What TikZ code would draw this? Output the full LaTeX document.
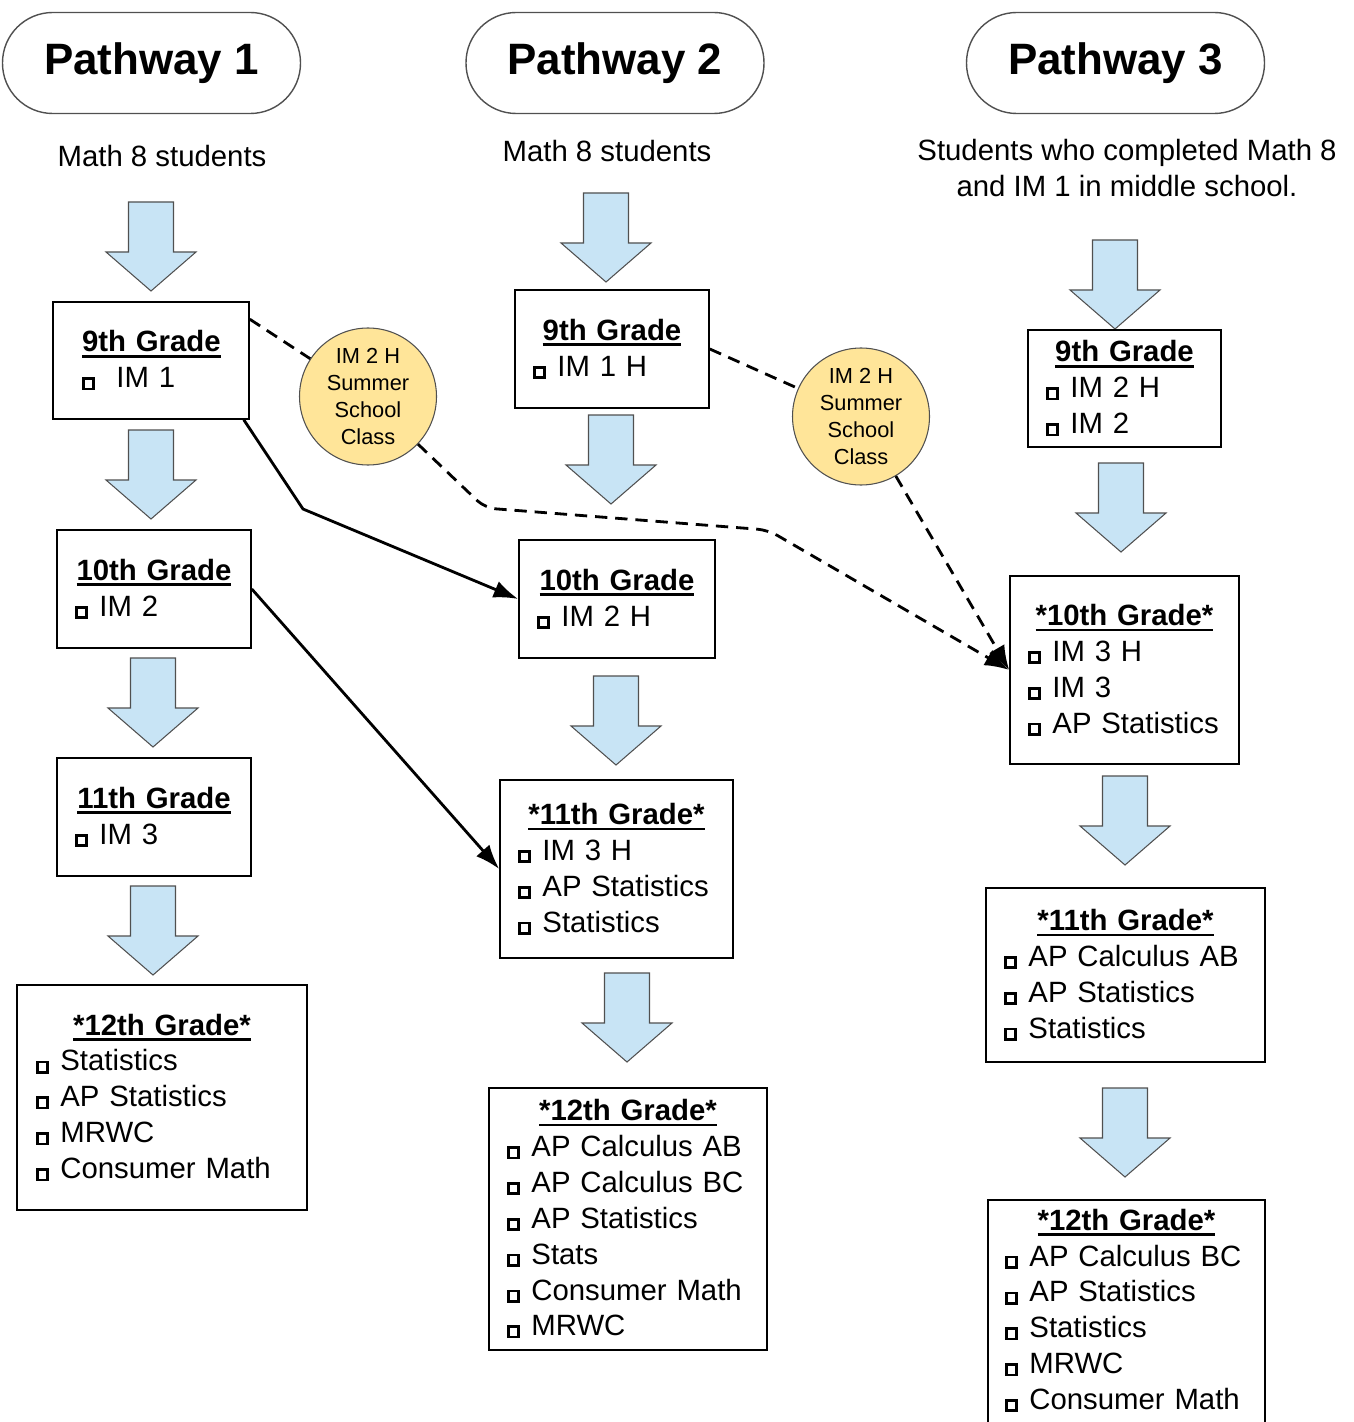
\documentclass[tikz,border=0pt]{standalone}
\usepackage{fontspec}
\setmainfont{Liberation Sans}
\usepackage{tikz}
\usetikzlibrary{arrows.meta,positioning,calc}
\definecolor{arrowblue}{RGB}{200,228,245}
\definecolor{summeryellow}{RGB}{255,229,153}
\definecolor{edgegray}{RGB}{80,80,80}
\newlength{\dpx}
\setlength{\dpx}{0.02cm}
\newcommand{\chk}{\setlength{\fboxrule}{1.5pt}\setlength{\fboxsep}{0pt}\fbox{\rule{0pt}{4.4pt}\hspace{4.4pt}}\hspace{6.5pt}}
\newcommand{\opt}[1]{\mbox{\chk #1}}
\newcommand{\gradehd}[1]{{\centering\setbox0\hbox{\bfseries #1}\rlap{\rule[-3.2pt]{\wd0}{1.5pt}}\box0\par}}
\tikzset{
    pill/.style={draw=edgegray, line width=0.8pt, rounded corners=28.6pt, minimum width=298\dpx, minimum height=101\dpx, font=\fontsize{25}{30}\selectfont\bfseries},
    intro/.style={align=center, font=\fontsize{16.7}{20.4}\selectfont},
    gradebox/.style n args={3}{draw, line width=0.9pt, align=left, text width=#1\dpx, inner xsep=#2\dpx, inner ysep=0pt, minimum height=#3\dpx, font=\fontsize{16.7}{20.4}\selectfont},
    summer/.style={circle, draw=edgegray, line width=0.6pt, fill=summeryellow, minimum size=137\dpx, inner sep=0pt, align=center, font=\fontsize{12.4}{15.3}\selectfont},
    jump/.style={draw, line width=1.6pt, -{Latex[length=14pt,width=10pt]}},
    dashline/.style={draw, line width=1.6pt, dash pattern=on 7pt off 4.5pt},
    arrowshape/.style={draw=edgegray, line width=0.6pt, fill=arrowblue},
    gradearrow/.pic={\path[arrowshape] (-22.5,0) -- (22.5,0) -- (22.5,50) -- (45,50) -- (0,89) -- (-45,50) -- (-22.5,50) -- cycle;}
}
\begin{document}
\begin{tikzpicture}[x=0.02cm, y=-0.02cm]
    \useasboundingbox (0,0) rectangle (1354,1422);

    % Pathway 1
    \node [pill] (path1) at (151.5,63) {Pathway 1};
    \node [intro] (intro1) at (162,156) {Math 8 students};
    \pic at (151,202) {gradearrow};
    \node [gradebox={138}{29}{117}] (g9a) at (151,360.5) {\gradehd{9th Grade}\mbox{\chk\hspace{5.7pt}IM 1}};
    \pic at (151,430) {gradearrow};
    \node [gradebox={158}{18}{118}] (g10a) at (154,589) {\gradehd{10th Grade}\opt{IM 2}};
    \pic at (153,658) {gradearrow};
    \node [gradebox={158}{18}{118}] (g11a) at (154,817) {\gradehd{11th Grade}\opt{IM 3}};
    \pic at (153,886) {gradearrow};
    \node [gradebox={252}{19}{225}] (g12a) at (162,1097.5) {\gradehd{*12th Grade*}\opt{Statistics}\\\opt{AP Statistics}\\\opt{MRWC}\\\opt{Consumer Math}};

    % Pathway 2
    \node [pill] (path2) at (615,63) {Pathway 2};
    \node [intro] (intro2) at (607,151) {Math 8 students};
    \pic at (606,193) {gradearrow};
    \node [gradebox={158}{18}{118}] (g9b) at (612,349) {\gradehd{9th Grade}\opt{IM 1 H}};
    \pic at (611,415) {gradearrow};
    \node [gradebox={160}{18}{118}] (g10b) at (617,599) {\gradehd{10th Grade}\opt{IM 2 H}};
    \pic at (616,676) {gradearrow};
    \node [gradebox={197}{18}{178}] (g11b) at (616.5,869) {\gradehd{*11th Grade*}\opt{IM 3 H}\\\opt{AP Statistics}\\\opt{Statistics}};
    \pic at (627,973) {gradearrow};
    \node [gradebox={242}{18}{262}] (g12b) at (628,1219) {\gradehd{*12th Grade*}\opt{AP Calculus AB}\\\opt{AP Calculus BC}\\\opt{AP Statistics}\\\opt{Stats}\\\opt{Consumer Math}\\\opt{MRWC}};

    % Pathway 3
    \node [pill] (path3) at (1115.5,63) {Pathway 3};
    \node [intro] (intro3) at (1127,168) {Students who completed Math 8\\and IM 1 in middle school.};
    \pic at (1115,240) {gradearrow};
    \node [gradebox={157}{18}{117}] (g9c) at (1124.5,388.5) {\gradehd{9th Grade}\opt{IM 2 H}\\\opt{IM 2}};
    \pic at (1121,463) {gradearrow};
    \node [gradebox={193}{18}{188}] (g10c) at (1124.5,670) {\gradehd{*10th Grade*}\opt{IM 3 H}\\\opt{IM 3}\\\opt{AP Statistics}};
    \pic at (1125,776) {gradearrow};
    \node [gradebox={243}{18}{174}] (g11c) at (1125.5,975) {\gradehd{*11th Grade*}\opt{AP Calculus AB}\\\opt{AP Statistics}\\\opt{Statistics}};
    \pic at (1125,1088) {gradearrow};
    \node [gradebox={243}{17}{236}] (g12c) at (1126.5,1318) {\gradehd{*12th Grade*}\opt{AP Calculus BC}\\\opt{AP Statistics}\\\opt{Statistics}\\\opt{MRWC}\\\opt{Consumer Math}\rule[-10pt]{0pt}{10pt}};

    % Summer school
    \node [summer] (sum1) at (368,396.5) {IM 2 H\\Summer\\School\\Class};
    \node [summer] (sum2) at (861,416.5) {IM 2 H\\Summer\\School\\Class};

    % Jumps between pathways
    \coordinate (bend1) at (303,509);
    \coordinate (dip1) at (485,508);
    \coordinate (dip2) at (768,530);
    \draw [jump] ($(g9a.south east)+(-6,0)$) -- (bend1) -- (g10b.west);
    \draw [jump] (g10a.east) -- (g11b.west);
    \draw [dashline] ($(g9a.north east)+(0,18)$) -- (sum1);
    \draw [dashline, -{Latex[length=14pt,width=10pt]}, rounded corners=6pt] (sum1) -- (dip1) -- (dip2) -- (g10c.west);
    \draw [dashline] (g9b.east) -- (sum2);
    \draw [dashline, -{Latex[length=14pt,width=10pt]}] (sum2) -- (g10c.west);
\end{tikzpicture}
\end{document}
